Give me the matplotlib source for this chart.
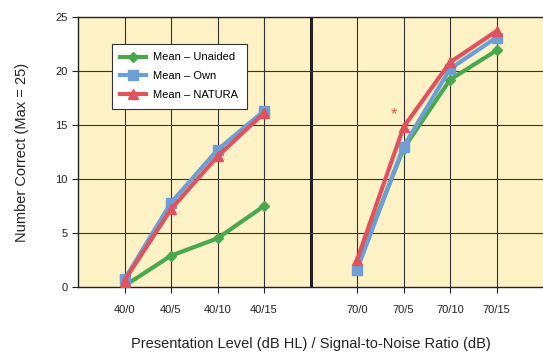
import matplotlib
matplotlib.use("Agg")
import matplotlib.pyplot as plt

plt.rcParams["font.family"] = ["Liberation Sans", "DejaVu Sans"]

categories = ["40/0", "40/5", "40/10", "40/15", "70/0", "70/5", "70/10", "70/15"]
unaided_40 = [0.1, 2.9, 4.5, 7.5]
own_40 = [0.7, 7.8, 12.7, 16.3]
natura_40 = [0.6, 7.2, 12.1, 16.1]
unaided_70 = [2.0, 12.8, 19.2, 21.9]
own_70 = [1.6, 13.0, 20.2, 23.1]
natura_70 = [2.5, 14.8, 20.8, 23.7]

pos40 = [1, 2, 3, 4]
pos70 = [6, 7, 8, 9]

fig = plt.figure(figsize=(5.43, 3.56), dpi=100)
ax = fig.add_axes([78/543, 1-287/356, 465/543, 270/356])
ax.set_facecolor("#fdf1c6")

green = "#4aa84c"
blue = "#6b9fd6"
red = "#e0525e"

for x in range(1, 10):
    if x == 5:
        ax.axvline(x, color="#222222", lw=2.2, zorder=1)
    else:
        ax.axvline(x, color="#333333", lw=0.8, zorder=1)
for y in [5, 10, 15, 20]:
    ax.axhline(y, color="#333333", lw=0.8, zorder=1)

series = [
    ("Mean \u2013 Unaided", unaided_40, unaided_70, green, "D", 5.5),
    ("Mean \u2013 Own", own_40, own_70, blue, "s", 6.5),
    ("Mean \u2013 NATURA", natura_40, natura_70, red, "^", 7),
]
handles = []
for label, v40, v70, c, m, ms in series:
    h, = ax.plot(pos40, v40, color=c, lw=3, marker=m, ms=ms, label=label, zorder=3)
    ax.plot(pos70, v70, color=c, lw=3, marker=m, ms=ms, zorder=3)
    handles.append(h)

ax.text(6.8, 15.3, "*", color=red, fontsize=12, ha="center", va="bottom")

ax.set_xlim(0, 10)
ax.set_ylim(0, 25)
ax.set_yticks([0, 5, 10, 15, 20, 25])
ax.set_xticks(pos40 + pos70)
ax.set_xticklabels(categories)
ax.tick_params(axis="both", labelsize=8, colors="#222222", length=4, width=0.8)
ax.tick_params(axis="x", pad=9)
ax.spines["right"].set_visible(False)
for s in ["left", "bottom", "top"]:
    ax.spines[s].set_color("#222222")
    ax.spines[s].set_linewidth(1.0)

ax.set_ylabel("Number Correct (Max = 25)", fontsize=10.5, color="#222222", labelpad=19)
ax.set_xlabel("Presentation Level (dB HL) / Signal-to-Noise Ratio (dB)", fontsize=10.5,
              color="#222222", labelpad=16)

leg = ax.legend(handles=handles, loc="upper left", bbox_to_anchor=(28/465, 1-21/270),
                fontsize=8, frameon=True, fancybox=False, framealpha=1,
                edgecolor="#333333", handlelength=2.3, borderpad=0.8, labelspacing=0.8,
                handletextpad=0.6)
leg.get_frame().set_linewidth(0.8)

fig.savefig("out.png", dpi=100)
